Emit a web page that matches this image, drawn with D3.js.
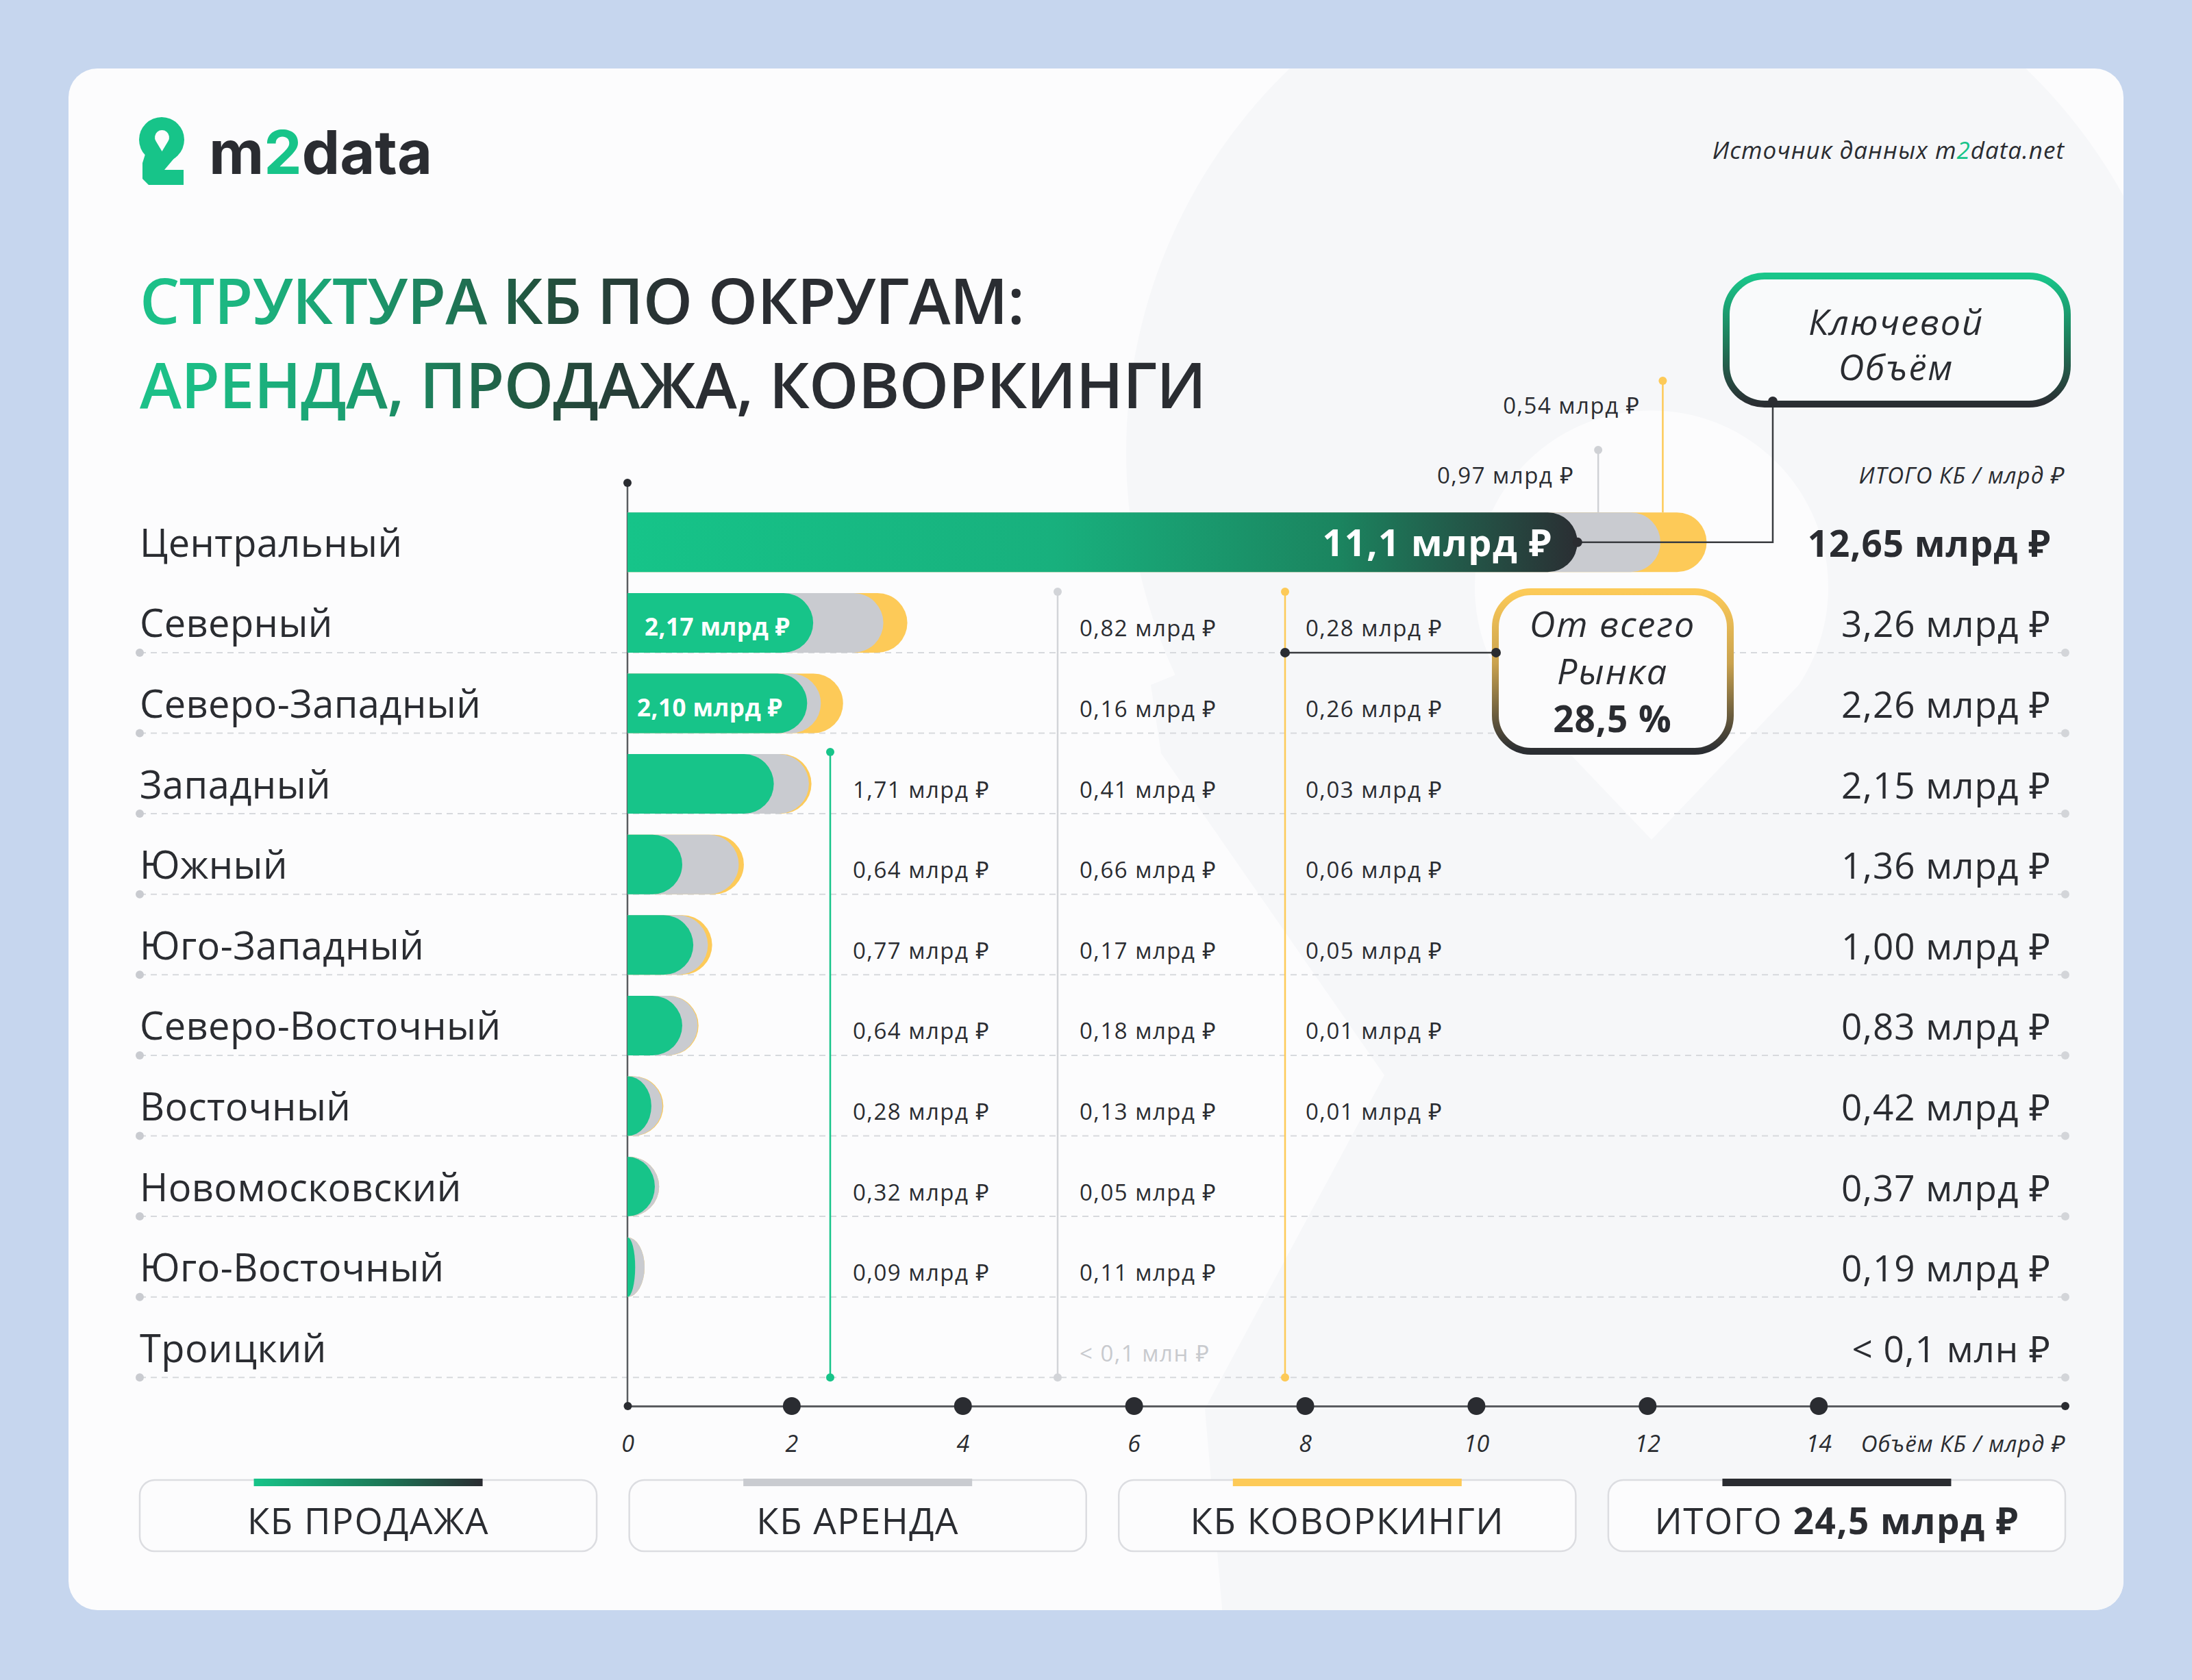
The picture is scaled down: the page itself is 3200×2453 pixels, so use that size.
<!DOCTYPE html>
<html><head><meta charset="utf-8">
<script src="https://cdn.jsdelivr.net/npm/d3@7"></script>
<style>
html,body{margin:0;padding:0;background:#c6d6ee;}
svg{display:block;}
</style></head>
<body>
<script>
// ---------- DATA ----------
const districts = ["Центральный","Северный","Северо-Западный","Западный","Южный","Юго-Западный","Северо-Восточный","Восточный","Новомосковский","Юго-Восточный","Троицкий"];
const sale   = [11.1, 2.17, 2.10, 1.71, 0.64, 0.77, 0.64, 0.28, 0.32, 0.09, 0];
const rent   = [0.97, 0.82, 0.16, 0.41, 0.66, 0.17, 0.18, 0.13, 0.05, 0.11, 0];
const cowork = [0.54, 0.28, 0.26, 0.03, 0.06, 0.05, 0.01, 0.01, 0, 0, 0];
const totals = [12.65, 3.26, 2.26, 2.15, 1.36, 1.00, 0.83, 0.42, 0.37, 0.19, null];
const xTicks = [0, 2, 4, 6, 8, 10, 12, 14];
const legendLabels = ["КБ ПРОДАЖА", "КБ АРЕНДА", "КБ КОВОРКИНГИ", "ИТОГО "];
const grandTotal = "24,5 млрд ₽";
const marketShare = "28,5 %";
const smallLabel = "< 0,1 млн ₽";

// ---------- SETUP ----------
const W = 3200, H = 2453;
const FONT = "'Open Sans', 'Noto Sans', sans-serif";
const DARK = "#2a2c31", GREEN = "#17c489", GREY = "#c9cbd0", YELLOW = "#fdca58";
const CARD = "#fcfcfd", SHADE = "#f6f7f9";
const fmtSale = v => (v >= 10 ? v.toFixed(1) : v.toFixed(2)).replace(".", ",") + " млрд ₽";
const fmt = v => v.toFixed(2).replace(".", ",") + " млрд ₽";

const svg = d3.select("body").append("svg").attr("width", W).attr("height", H)
  .style("font-family", FONT);
const defs = svg.append("defs");

function lin(id, x1, y1, x2, y2, stops, units) {
  const g = defs.append("linearGradient").attr("id", id)
    .attr("x1", x1).attr("y1", y1).attr("x2", x2).attr("y2", y2);
  if (units) g.attr("gradientUnits", units);
  stops.forEach(s => g.append("stop").attr("offset", s[0]).attr("stop-color", s[1]));
}
lin("titleGrad", 260, 0, 1000, 0, [[0, "#1cc088"], [0.35, "#1b9e70"], [0.7, "#22543f"], [1, "#2a2d32"]], "userSpaceOnUse");
lin("barGrad", 0, 0, 1, 0, [[0, "#16c489"], [0.45, "#18b07d"], [0.75, "#1b845f"], [1, "#2a2e33"]]);
lin("legGrad", 0, 0, 1, 0, [[0, "#17c489"], [0.55, "#1c7a58"], [1, "#2a2c31"]]);
lin("keyGrad", 0, 0, 0, 1, [[0, "#19c68a"], [0.5, "#1f7d5b"], [1, "#2a2d32"]]);
lin("mktGrad", 0, 0, 0, 1, [[0, "#fcca58"], [0.45, "#c9a24f"], [1, "#2a2d32"]]);

// background card
svg.append("rect").attr("width", W).attr("height", H).attr("fill", "#c6d6ee");
svg.append("rect").attr("x", 100).attr("y", 100).attr("width", 3000).attr("height", 2251)
  .attr("rx", 42).attr("fill", CARD);
defs.append("clipPath").attr("id", "cardClip").append("rect")
  .attr("x", 100).attr("y", 100).attr("width", 3000).attr("height", 2251).attr("rx", 42);

// faint watermark "2" shape
const wm = svg.append("g").attr("clip-path", "url(#cardClip)");
wm.append("circle").attr("cx", 2420).attr("cy", 660).attr("r", 776).attr("fill", SHADE);
wm.append("path").attr("d", "M1680,1000 L1695,1100 L2021,1570 L1759,2057 L1785,2360 L3110,2360 L3110,900 L2420,700 Z").attr("fill", SHADE);
wm.append("path").attr("d", "M2411,1226 L2196,1000 A258,258 0 1 1 2626,1000 Z").attr("fill", CARD);

// ---------- HEADER ----------
const logo = svg.append("g");
logo.append("circle").attr("cx", 236).attr("cy", 204).attr("r", 33).attr("fill", GREEN);
logo.append("path").attr("d", "M213,222 L262,222 L240,248 L268,248 L268,270 L217,270 L208,261 L208,238 Z").attr("fill", GREEN);
logo.append("path").attr("d", "M236.5,221 L227.5,206 A10.5,10.5 0 1 1 245.5,206 Z").attr("fill", CARD);
const lt = svg.append("text").attr("x", 305).attr("y", 254)
  .style("font-family", "Inter, 'Open Sans', sans-serif").attr("font-weight", 700).attr("font-size", 88).attr("fill", DARK);
lt.append("tspan").text("m");
lt.append("tspan").attr("fill", GREEN).text("2");
lt.append("tspan").text("data");

const src = svg.append("text").attr("x", 3014).attr("y", 232).attr("text-anchor", "end")
  .attr("font-size", 35).attr("font-style", "italic").attr("fill", DARK).attr("letter-spacing", 1);
src.append("tspan").text("Источник данных m");
src.append("tspan").attr("fill", GREEN).text("2");
src.append("tspan").text("data.net");

svg.append("text").attr("x", 204).attr("y", 473).attr("font-size", 92).attr("font-weight", 600)
  .attr("fill", "url(#titleGrad)").attr("textLength", 1292).attr("lengthAdjust", "spacing")
  .text("СТРУКТУРА КБ ПО ОКРУГАМ:");
svg.append("text").attr("x", 204).attr("y", 596).attr("font-size", 92).attr("font-weight", 600)
  .attr("fill", "url(#titleGrad)").attr("textLength", 1557).attr("lengthAdjust", "spacing")
  .text("АРЕНДА, ПРОДАЖА, КОВОРКИНГИ");

// ---------- SCALES ----------
const x = d3.scaleLinear().domain([0, 16.8]).range([916, 3015]);
const y = d3.scaleBand().domain(districts).range([733, 733 + 11 * 117.6]).paddingInner(0.26).paddingOuter(0.13);
const bh = y.bandwidth();
const rows = districts.map((d, i) => ({ name: d, i, sale: sale[i], rent: rent[i], cowork: cowork[i], total: totals[i] }));

// dashed row separators
const sep = svg.append("g");
rows.filter(r => r.i > 0).forEach(r => {
  const yy = y(r.name) + bh;
  sep.append("line").attr("x1", 204).attr("x2", 3015).attr("y1", yy).attr("y2", yy)
    .attr("stroke", "#d7d9dd").attr("stroke-width", 2).attr("stroke-dasharray", "9,7");
  sep.append("circle").attr("cx", 204).attr("cy", yy).attr("r", 6).attr("fill", "#c9cbd0");
  sep.append("circle").attr("cx", 3015).attr("cy", yy).attr("r", 6).attr("fill", "#d3d5d9");
});

// column guide lines
const lastY = y(districts[districts.length - 1]) + bh;
function guide(xx, y0, col, lw) {
  svg.append("line").attr("x1", xx).attr("x2", xx).attr("y1", y0).attr("y2", lastY).attr("stroke", col).attr("stroke-width", lw);
  svg.append("circle").attr("cx", xx).attr("cy", y0).attr("r", 6).attr("fill", col);
  svg.append("circle").attr("cx", xx).attr("cy", lastY).attr("r", 6).attr("fill", col);
}
const col1 = 1212, col2 = 1544, col3 = 1876;
guide(col1, y(districts[3]) - 3, GREEN, 2.5);
guide(col2, y(districts[1]) - 2, "#d2d4d8", 2.5);
guide(col3, y(districts[1]) - 2, YELLOW, 2.5);

// y axis
svg.append("line").attr("x1", 916).attr("x2", 916).attr("y1", 705).attr("y2", 2053).attr("stroke", "#5a5c60").attr("stroke-width", 2.5);
svg.append("circle").attr("cx", 916).attr("cy", 705).attr("r", 6).attr("fill", DARK);

// ---------- BARS ----------
function barPath(x0, x1, top, h) {
  const w = x1 - x0;
  if (w <= 0.5) return "";
  const r = h / 2, rx = Math.min(r, w);
  return `M${x0},${top} H${x1 - rx} A${rx},${r} 0 0 1 ${x1 - rx},${top + h} H${x0} Z`;
}
const bars = svg.append("g");
rows.forEach(r => {
  const top = y(r.name);
  bars.append("path").attr("d", barPath(x(0), x(r.sale + r.rent + r.cowork), top, bh)).attr("fill", YELLOW);
  bars.append("path").attr("d", barPath(x(0), x(r.sale + r.rent), top, bh)).attr("fill", GREY);
  bars.append("path").attr("d", barPath(x(0), x(r.sale), top, bh))
    .attr("fill", r.i === 0 ? "url(#barGrad)" : GREEN);
});

// ---------- LABELS ----------
const lab = svg.append("g");
rows.forEach(r => {
  const cy = y(r.name) + bh / 2;
  lab.append("text").attr("x", 204).attr("y", cy + 21).attr("font-size", 56).attr("fill", DARK)
    .attr("letter-spacing", 0.4).text(r.name);
  lab.append("text").attr("x", 2994).attr("y", cy + 21).attr("text-anchor", "end")
    .attr("font-size", 53).attr("font-weight", r.i === 0 ? 700 : 400).attr("fill", DARK)
    .attr("letter-spacing", 1).text(r.total === null ? smallLabel : fmt(r.total));
  if (r.i === 0) {
    lab.append("text").attr("x", x(r.sale) - 37).attr("y", cy + 20).attr("text-anchor", "end")
      .attr("font-size", 54).attr("font-weight", 700).attr("fill", "#fff").attr("letter-spacing", 1.5).text(fmtSale(r.sale));
    return;
  }
  if (r.i <= 2) {
    lab.append("text").attr("x", x(0) + (r.i === 1 ? 25 : 14)).attr("y", cy + 19)
      .attr("font-size", 35).attr("font-weight", 700).attr("fill", "#fff").attr("letter-spacing", 0.5).text(fmtSale(r.sale));
  } else if (r.sale > 0) {
    lab.append("text").attr("x", col1 + 33).attr("y", cy + 20).attr("font-size", 33).attr("fill", DARK)
      .attr("letter-spacing", 1.5).text(fmtSale(r.sale));
  }
  if (r.rent > 0) {
    lab.append("text").attr("x", col2 + 32).attr("y", cy + 20).attr("font-size", 33).attr("fill", DARK)
      .attr("letter-spacing", 1.5).text(fmt(r.rent));
  } else {
    lab.append("text").attr("x", col2 + 32).attr("y", cy + 20).attr("font-size", 33).attr("fill", "#c8cace")
      .attr("letter-spacing", 1.5).text(smallLabel);
  }
  if (r.cowork > 0) {
    lab.append("text").attr("x", col3 + 30).attr("y", cy + 20).attr("font-size", 33).attr("fill", DARK)
      .attr("letter-spacing", 1.5).text(fmt(r.cowork));
  }
});

// Central row callouts above the bar
const c0 = rows[0], c0top = y(c0.name), c0cy = c0top + bh / 2;
const gx = x(c0.sale + c0.rent * 0.25), yx = x(c0.sale + c0.rent + c0.cowork * 0.05);
svg.append("line").attr("x1", gx).attr("x2", gx).attr("y1", 657).attr("y2", c0top).attr("stroke", "#cfd1d5").attr("stroke-width", 2.5);
svg.append("circle").attr("cx", gx).attr("cy", 657).attr("r", 6).attr("fill", "#cfd1d5");
svg.append("line").attr("x1", yx).attr("x2", yx).attr("y1", 556).attr("y2", c0top).attr("stroke", YELLOW).attr("stroke-width", 2.5);
svg.append("circle").attr("cx", yx).attr("cy", 556).attr("r", 6).attr("fill", YELLOW);
svg.append("text").attr("x", gx - 35).attr("y", 706).attr("text-anchor", "end").attr("font-size", 33).attr("fill", DARK)
  .attr("letter-spacing", 1.5).text(fmt(c0.rent));
svg.append("text").attr("x", yx - 33).attr("y", 604).attr("text-anchor", "end").attr("font-size", 33).attr("fill", DARK)
  .attr("letter-spacing", 1.5).text(fmt(c0.cowork));
svg.append("text").attr("x", 3014).attr("y", 706).attr("text-anchor", "end").attr("font-size", 33).attr("font-style", "italic")
  .attr("fill", DARK).attr("letter-spacing", 1).text("ИТОГО КБ / млрд ₽");

// "Ключевой Объём" callout
svg.append("polyline").attr("points", `${x(c0.sale)},${c0cy} 2588,${c0cy} 2588,586`).attr("fill", "none")
  .attr("stroke", "#3a3c40").attr("stroke-width", 2.5);
svg.append("rect").attr("x", 2520).attr("y", 403).attr("width", 498).attr("height", 187).attr("rx", 56)
  .attr("fill", "#f9fafb").attr("stroke", "url(#keyGrad)").attr("stroke-width", 10);
svg.append("circle").attr("cx", x(c0.sale)).attr("cy", c0cy).attr("r", 7).attr("fill", DARK);
svg.append("circle").attr("cx", 2588).attr("cy", 586).attr("r", 7).attr("fill", DARK);
svg.append("text").attr("x", 2768).attr("y", 489).attr("text-anchor", "middle").attr("font-size", 52).attr("font-style", "italic")
  .attr("fill", DARK).attr("letter-spacing", 2).text("Ключевой");
svg.append("text").attr("x", 2768).attr("y", 555).attr("text-anchor", "middle").attr("font-size", 52).attr("font-style", "italic")
  .attr("fill", DARK).attr("letter-spacing", 2).text("Объём");

// "От всего Рынка" callout
const r1sep = y(districts[1]) + bh;
svg.append("line").attr("x1", col3).attr("x2", 2184).attr("y1", r1sep).attr("y2", r1sep).attr("stroke", "#3a3c40").attr("stroke-width", 2.5);
svg.append("rect").attr("x", 2183).attr("y", 864).attr("width", 343).attr("height", 233).attr("rx", 52)
  .attr("fill", "#fbfbfc").attr("stroke", "url(#mktGrad)").attr("stroke-width", 10);
svg.append("circle").attr("cx", col3).attr("cy", r1sep).attr("r", 7).attr("fill", DARK);
svg.append("circle").attr("cx", 2184).attr("cy", r1sep).attr("r", 7).attr("fill", DARK);
svg.append("text").attr("x", 2354).attr("y", 930).attr("text-anchor", "middle").attr("font-size", 52).attr("font-style", "italic")
  .attr("fill", DARK).attr("letter-spacing", 2).text("От всего");
svg.append("text").attr("x", 2354).attr("y", 999).attr("text-anchor", "middle").attr("font-size", 52).attr("font-style", "italic")
  .attr("fill", DARK).attr("letter-spacing", 2).text("Рынка");
svg.append("text").attr("x", 2354).attr("y", 1069).attr("text-anchor", "middle").attr("font-size", 53).attr("font-weight", 700)
  .attr("fill", DARK).attr("letter-spacing", 1).text(marketShare);

// ---------- X AXIS ----------
const axY = 2053;
const axis = svg.append("g").attr("transform", `translate(0,${axY})`)
  .call(d3.axisBottom(x).tickValues(xTicks).tickSize(0).tickFormat(d => d));
axis.select(".domain").attr("stroke", "#5a5c60").attr("stroke-width", 3);
axis.selectAll(".tick").filter(d => d > 0).attr("transform", d => `translate(${x(d) - 10},0)`);
axis.selectAll(".tick text").attr("font-size", 34).attr("font-style", "italic").attr("fill", DARK)
  .attr("font-family", FONT).attr("dy", 0).attr("y", 67);
axis.selectAll(".tick").append("circle").attr("r", d => d === 0 ? 6 : 13).attr("fill", DARK);
axis.append("circle").attr("cx", x.range()[1]).attr("r", 6).attr("fill", DARK);
svg.append("text").attr("x", 3015).attr("y", 2120).attr("text-anchor", "end").attr("font-size", 33).attr("font-style", "italic")
  .attr("fill", DARK).attr("letter-spacing", 1).text("Объём КБ / млрд ₽");

// ---------- LEGEND ----------
const legFills = ["url(#legGrad)", GREY, YELLOW, DARK];
const lx = d3.scaleBand().domain(d3.range(4)).range([204, 3015]).paddingInner(0.0665).paddingOuter(0);
legendLabels.forEach((t, i) => {
  const bx = lx(i), bw = lx.bandwidth();
  svg.append("rect").attr("x", bx).attr("y", 2161).attr("width", bw).attr("height", 104).attr("rx", 22)
    .attr("fill", "#fcfcfd").attr("stroke", "#dcdde1").attr("stroke-width", 2.5);
  svg.append("rect").attr("x", bx + bw / 2 - 167).attr("y", 2159).attr("width", 334).attr("height", 11).attr("fill", legFills[i]);
  const tx = svg.append("text").attr("x", bx + bw / 2).attr("y", 2240).attr("text-anchor", "middle")
    .attr("font-size", 53).attr("fill", DARK).attr("letter-spacing", 1.5);
  tx.append("tspan").text(t);
  if (i === 3) tx.append("tspan").attr("font-weight", 700).text(grandTotal);
});
</script>
</body></html>
